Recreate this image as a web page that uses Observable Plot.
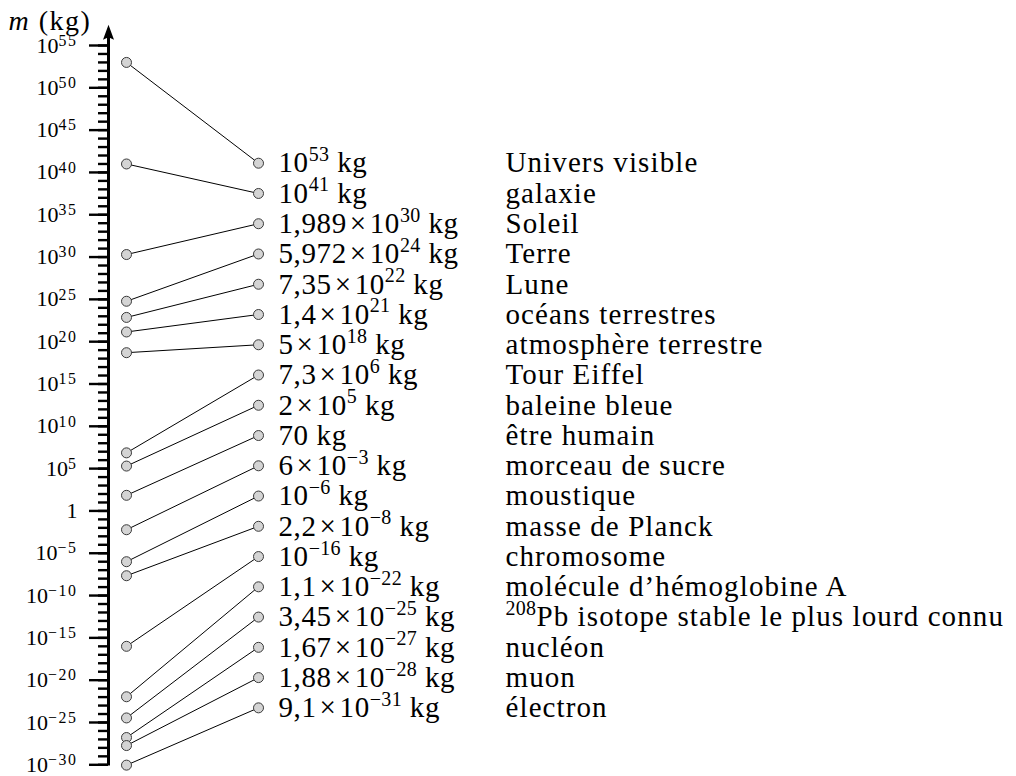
<!DOCTYPE html>
<html><head><meta charset="utf-8">
<script src="https://cdn.jsdelivr.net/npm/d3@7"></script>
<script src="https://cdn.jsdelivr.net/npm/@observablehq/plot@0.6"></script>
<style>body{margin:0;background:#fff}</style>
</head><body><div id="chart"></div>
<script>
// ---- data ----
const names = [
  "Univers visible", "galaxie", "Soleil", "Terre", "Lune", "océans terrestres",
  "atmosphère terrestre", "Tour Eiffel", "baleine bleue", "être humain",
  "morceau de sucre", "moustique", "masse de Planck", "chromosome",
  "molécule d’hémoglobine A", "^{208}Pb isotope stable le plus lourd connu",
  "nucléon", "muon", "électron"
];
const mantissas = [1, 1, 1.989, 5.972, 7.35, 1.4, 5, 7.3, 2, 70, 6, 1, 2.2, 1, 1.1, 3.45, 1.67, 1.88, 9.1];
const exponents = [53, 41, 30, 24, 22, 21, 18, 6, 5, 0, -3, -6, -8, -16, -22, -25, -27, -28, -31];
const majorTickExponents = [-30, -25, -20, -15, -10, -5, 0, 5, 10, 15, 20, 25, 30, 35, 40, 45, 50, 55];
const minorTickExponents = d3.range(-30, 56);

// ---- helpers ----
const fmtMass = (m, e) => {
  if (e === 0) return `${m} kg`;
  const pow = `10^{${e < 0 ? "−" + (-e) : e}}`;
  if (m === 1) return `${pow} kg`;
  return `${String(m).replace(".", ",")}\u200A×\u200A${pow} kg`;
};
const fmtTick = (d) => {
  const e = Math.round(Math.log10(d));
  if (e === 0) return "1";
  return `10^{${e < 0 ? "−" + (-e) : e}}`;
};

// layout of the ranked column (evenly spaced rows, in decades of the y scale)
const rankExp = d3.scaleLinear().domain([0, names.length - 1]).range([41.09, -23.27]);
const xActual = 0.12;

const rows = names.map((name, i) => ({
  name,
  mass: mantissas[i] * 10 ** exponents[i],
  label: fmtMass(mantissas[i], exponents[i]),
  rankPos: 10 ** rankExp(i)
}));

const arrowHead = {
  draw(ctx) {
    ctx.moveTo(0, 0);
    ctx.lineTo(5.5, 15);
    ctx.lineTo(0, 12.5);
    ctx.lineTo(-5.5, 15);
    ctx.closePath();
  }
};

const chart = Plot.plot({
  width: 1016,
  height: 776,
  marginTop: 45,
  marginBottom: 11.7,
  marginLeft: 108,
  marginRight: 0,
  x: {domain: [0, 1], range: [108, 258], axis: null},
  y: {type: "log", domain: [1e-30, 1e55], axis: null},
  style: {fontFamily: "'Liberation Serif', serif", background: "white", color: "black", overflow: "visible"},
  marks: [
    Plot.axisY(minorTickExponents.map(e => 10 ** e), {anchor: "left", tickSize: 10, tickFormat: () => "", strokeWidth: 2.4, label: null}),
    Plot.axisY(majorTickExponents.map(e => 10 ** e), {anchor: "left", tickSize: 19, tickPadding: 12, tickFormat: fmtTick, fontSize: 22, strokeWidth: 2.4, label: null, className: "tick-labels"}),
    Plot.ruleX([0], {y1: 10 ** -30.15, y2: 10 ** 56, strokeWidth: 3, stroke: "black"}),
    Plot.dot([0], {x: 0, y: 10 ** 57.45, symbol: arrowHead, r: 1, fill: "black", stroke: "none"}),
    Plot.link(rows, {x1: xActual, y1: "mass", x2: 1, y2: "rankPos", stroke: "black", strokeWidth: 1}),
    Plot.dot(rows, {x: xActual, y: "mass", r: 5, fill: "#d4d4d4", stroke: "#3a3a3a", strokeWidth: 1}),
    Plot.dot(rows, {x: 1, y: "rankPos", r: 5, fill: "#d4d4d4", stroke: "#3a3a3a", strokeWidth: 1}),
    Plot.text(rows, {x: 1, y: "rankPos", text: "label", dx: 20, textAnchor: "start", fontSize: 29, className: "mass-label"}),
    Plot.text(rows, {x: 1, y: "rankPos", text: "name", dx: 247, textAnchor: "start", fontSize: 29, className: "name-label"}),
    Plot.text(["*m* (kg)"], {frameAnchor: "top-left", dx: -100, dy: -16, lineAnchor: "bottom", textAnchor: "start", fontSize: 28, className: "axis-title"})
  ]
});

document.getElementById("chart").appendChild(chart);

// letter spacing to approach the wider Computer Modern look
chart.querySelectorAll(".name-label text").forEach(el => el.setAttribute("letter-spacing", "1.1"));
chart.querySelectorAll(".mass-label text").forEach(el => el.setAttribute("letter-spacing", "0.6"));
chart.querySelectorAll(".axis-title text").forEach(el => el.setAttribute("letter-spacing", "1.5"));

// ---- render ^{...} as superscript and *...* as italic ----
const NS = "http://www.w3.org/2000/svg";
chart.querySelectorAll("text").forEach(el => {
  const s = el.textContent;
  if (!/[\^*]/.test(s)) return;
  const isTick = !!el.closest(".tick-labels");
  const size = parseFloat(getComputedStyle(el).fontSize);
  const raise = (isTick ? 0.31 : 0.39) * size;
  const supSize = (isTick ? 0.72 : 0.69) * size;
  const supSpacing = isTick ? 1.6 : 0.3;
  el.textContent = "";
  const re = /\^\{([^}]*)\}|\*([^*]*)\*|([^\^*]+)/g;
  let m, down = 0;
  while ((m = re.exec(s))) {
    const t = document.createElementNS(NS, "tspan");
    if (m[1] != null) {
      t.textContent = m[1];
      t.setAttribute("font-size", supSize);
      t.setAttribute("letter-spacing", supSpacing);
      t.setAttribute("dy", -raise + down);
      down = raise;
    } else {
      t.textContent = m[2] != null ? m[2] : m[3];
      t.setAttribute("font-size", size);
      if (m[2] != null) t.setAttribute("font-style", "italic");
      if (down) { t.setAttribute("dy", down); down = 0; }
    }
    el.appendChild(t);
  }
});
</script>
</body></html>
